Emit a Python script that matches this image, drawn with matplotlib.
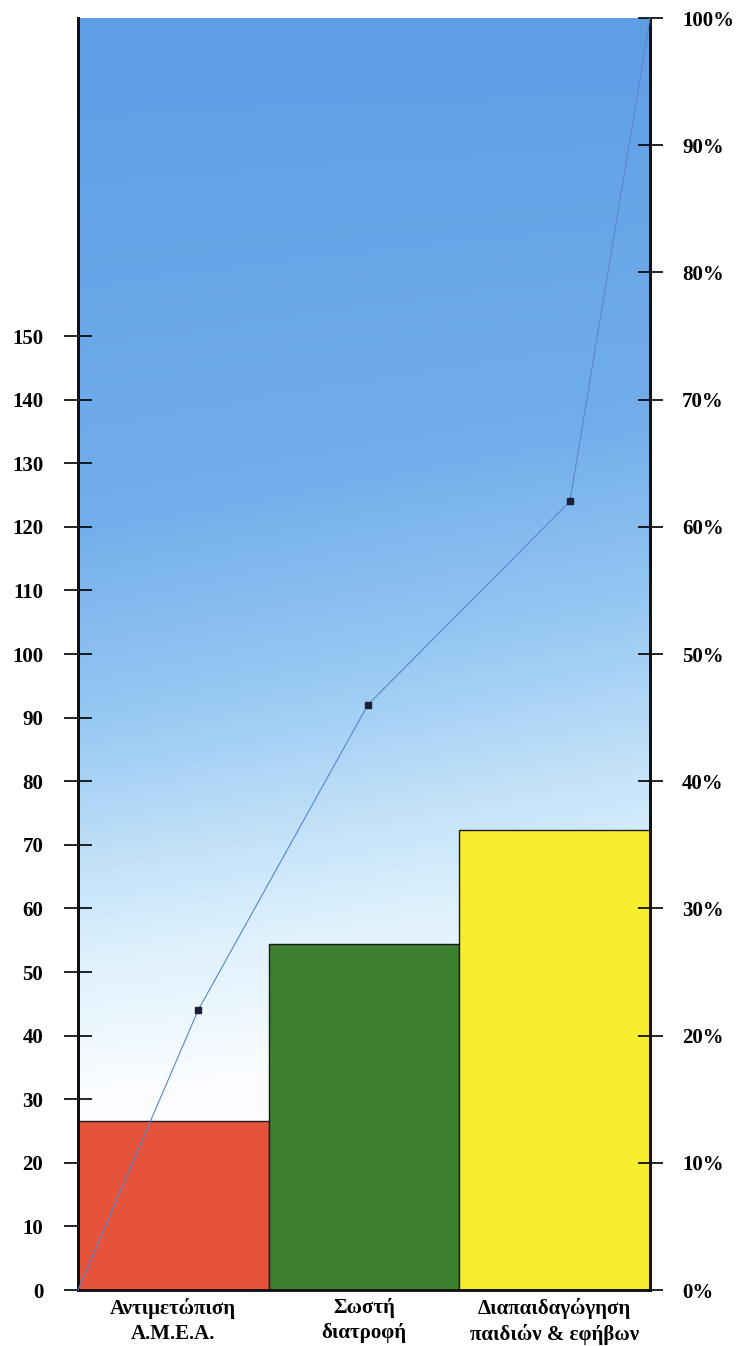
import numpy as np
import matplotlib.pyplot as plt
from matplotlib.colors import LinearSegmentedColormap

# data
categories = ["Αντιμετώπιση\nΑ.Μ.Ε.Α.", "Σωστή\nδιατροφή", "Διαπαιδαγώγηση\nπαιδιών & εφήβων"]
counts = [26.5, 54.4, 72.4]
bar_colors = ["#e4533a", "#3d8030", "#f7ec2e"]
cum_x = [0, 0.63, 1.52, 2.58, 3.0]
cum_pct = [0, 22, 46, 62, 100]
left_ticks = [0, 10, 20, 30, 40, 50, 60, 70, 80, 90, 100, 110, 120, 130, 140, 150]
right_ticks = [0, 10, 20, 30, 40, 50, 60, 70, 80, 90, 100]

plt.rcParams['font.family'] = ['Liberation Serif', 'DejaVu Serif']
plt.rcParams['font.weight'] = 'bold'

fig = plt.figure(figsize=(7.43, 13.46), dpi=100)
ax = fig.add_axes([78 / 743, 1 - 1290 / 1346, (650 - 78) / 743, (1290 - 18) / 1346])

# sky gradient background, a bit lighter towards the lower right
sky = LinearSegmentedColormap.from_list("sky", [
    (0.0, (1.0, 1.0, 1.0)),
    (0.18, (0.98, 0.99, 1.0)),
    (0.30, (0.86, 0.94, 0.99)),
    (0.40, (0.72, 0.86, 0.97)),
    (0.50, (0.58, 0.78, 0.95)),
    (0.65, (0.45, 0.68, 0.92)),
    (1.0, (0.37, 0.62, 0.90)),
])
gy = np.linspace(0, 1, 400)[:, None]
gx = np.linspace(0, 1, 80)[None, :]
grad = np.clip(gy + 0.09 * (0.5 - gx) * np.sin(np.pi * gy), 0, 1)
ax.imshow(grad, cmap=sky, origin='lower', aspect='auto', extent=[0, 3, 0, 200],
          vmin=0, vmax=1, zorder=0)

x = np.arange(len(counts)) + 0.5
ax.bar(x, counts, width=1.0, color=bar_colors, edgecolor='#1a1a1a', linewidth=1.0, zorder=2)

ax.set_xlim(0, 3)
ax.set_ylim(0, 200)
ax.set_yticks(left_ticks)
ax.set_yticklabels([str(t) for t in left_ticks])
ax.set_xticks(x)
ax.set_xticklabels(categories, fontsize=15, linespacing=1.3)
ax.tick_params(axis='x', length=0, pad=6)
ax.tick_params(axis='y', direction='inout', length=20, width=1.2, labelsize=15, pad=15)
for lab in ax.get_xticklabels() + ax.get_yticklabels():
    lab.set_fontweight('bold')

ax2 = ax.twinx()
ax2.set_ylim(0, 100)
ax2.set_yticks(right_ticks)
ax2.set_yticklabels([f"{t}%" for t in right_ticks])
ax2.tick_params(axis='y', direction='inout', length=18, width=1.2, labelsize=15, pad=14)
for lab in ax2.get_yticklabels():
    lab.set_fontweight('bold')

ax2.plot(cum_x, cum_pct, color='#5a86d0', linewidth=0.8, zorder=3, clip_on=False)
ax2.plot(cum_x[1:-1], cum_pct[1:-1], linestyle='none', marker='s', markersize=5,
         color='#1c1f3a', zorder=4)

for a in (ax, ax2):
    a.spines['top'].set_visible(False)
    a.spines['left'].set_linewidth(2)
    a.spines['right'].set_linewidth(2)
    a.spines['bottom'].set_linewidth(1.8)
    for s in a.spines.values():
        s.set_color('#111111')

fig.savefig("out.png", dpi=100, facecolor='white')
